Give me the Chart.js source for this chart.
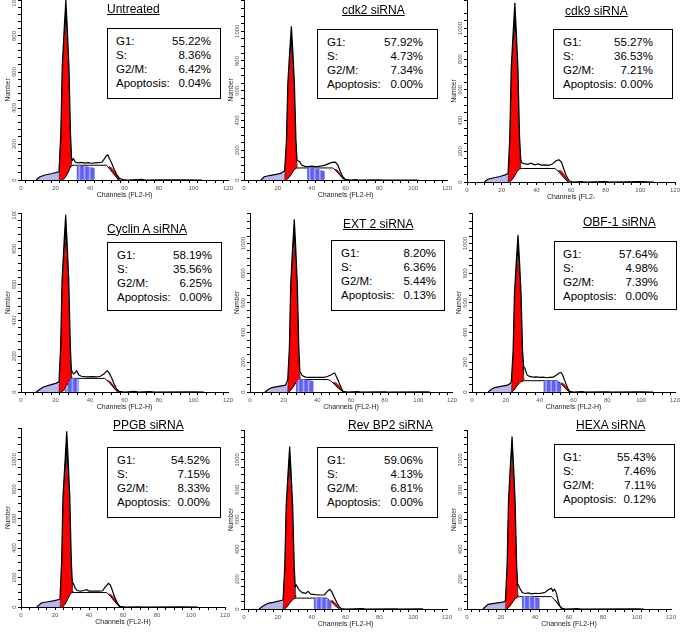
<!DOCTYPE html>
<html lang="en">
<head>
<meta charset="UTF-8">
<title>Cell cycle profiles after siRNA</title>
<script src="https://cdn.jsdelivr.net/npm/chart.js"></script>
<style>
  body { margin: 0; background: #fff; font-family: "Liberation Sans", Arial, sans-serif; }
  #fig { position: relative; width: 685px; height: 633px; overflow: hidden; background: #fff; }
  .ttl { position: absolute; font-size: 12px; line-height: 14px; text-decoration: underline; white-space: nowrap; color: #000; }
  .box { position: absolute; box-sizing: border-box; border: 1px solid #000; background: #fff; font-size: 11.5px; line-height: 14px; color: #000; padding-top: 5px; }
  .row { display: flex; justify-content: space-between; white-space: nowrap; }
</style>
</head>
<body>
<div id="fig"></div>
<script>
// panel texts
const panelNames = ['Untreated', 'cdk2 siRNA', 'cdk9 siRNA', 'Cyclin A siRNA', 'EXT 2 siRNA', 'OBF-1 siRNA', 'PPGB siRNA', 'Rev BP2 siRNA', 'HEXA siRNA'];
const g1Text  = ['55.22%', '57.92%', '55.27%', '58.19%', '8.20%', '57.64%', '54.52%', '59.06%', '55.43%'];
const sText   = ['8.36%', '4.73%', '36.53%', '35.56%', '6.36%', '4.98%', '7.15%', '4.13%', '7.46%'];
const g2mText = ['6.42%', '7.34%', '7.21%', '6.25%', '5.44%', '7.39%', '8.33%', '6.81%', '7.11%'];
const apoText = ['0.04%', '0.00%', '0.00%', '0.00%', '0.13%', '0.00%', '0.00%', '0.00%', '0.12%'];
const xTitles = ['Channels (FL2-H)', 'Channels (FL2-H)', 'Channels (FL2-', 'Channels (FL2-H)', 'Channels (FL2-H)',
                 'Channels (FL2-H)', 'Channels (FL2-H)', 'Channels (FL2-H)', 'Channels (FL2-H)'];
const yMax  = [1000, 1210, 1185, 1000, 1205, 1205, 1215, 1200, 1200];
const yStep = [40, 50, 50, 40, 50, 50, 50, 50, 50];

// [channel, count]
const untreatedHist = [[8.7,0],[11,18],[14,28],[18,36],[22,46],[23.1,260],[23.9,630],[25.1,850],[26,1000],[26.8,850],[27.8,630],[28.7,260],[29.3,125],[29.8,110],[30.5,118],[31.5,100],[33,95],[35,98],[37,94],[39,96],[41,93],[43,95],[45,96],[47,100],[48.5,120],[49.5,135],[50.3,140],[51.3,118],[52.5,95],[54,60],[55.5,30],[57,10],[59,2],[62,0],[70,3],[72,0],[80,1],[95,1],[105,0]];
const untreatedG1 = [[22.1,0],[23.2,240],[24,580],[25.1,780],[26,870],[26.8,760],[27.7,560],[28.6,220],[29.2,90],[29.6,82]];
const untreatedS = [[24,0],[25.5,12],[27,35],[28.3,65],[29.5,80],[31,82],[49.5,82],[51,66],[53,42],[55,18],[56.5,0]];
const untreatedG2 = [[50,62],[51,74],[52.5,68],[54,48],[55.5,26],[57,4],[57.5,0]];
const untreatedDebris = [[8.7,0],[11,18],[14,28],[18,36],[22,46],[22.8,30],[23,0]];
const untreatedWindow = [[33,78],[34,78],[35,77],[36,76],[37,75],[38,74],[39,72],[40,70],[41,68],[42,66]];

const cdk2Hist = [[10,0],[12,22],[15,30],[19,38],[22,46],[24,62],[25.1,270],[25.9,650],[27.1,880],[28,1034],[28.8,880],[29.8,650],[30.7,270],[31.4,130],[32.9,125],[34,100],[36,92],[38,90],[40,93],[42,90],[44,92],[46,95],[48,100],[50,110],[52,118],[54,120],[55.5,100],[57,55],[58.5,20],[60,4],[63,0],[66,3],[68,0],[80,1],[82,0],[103,0]];
const cdk2G1 = [[24,0],[25.2,250],[26,600],[27.1,800],[28,900],[28.8,780],[29.7,580],[30.6,230],[31.2,100],[31.6,85]];
const cdk2S = [[25,0],[26.5,15],[28,40],[29.5,68],[31,80],[33,81],[52.5,81],[54.5,60],[56.5,35],[58,15],[59.5,0]];
const cdk2G2 = [[53,62],[54.5,72],[56,55],[57.5,32],[59,8],[59.5,0]];
const cdk2Debris = [[10,0],[12,22],[15,30],[19,38],[22,46],[24,60],[24.5,50],[24.8,0]];
const cdk2Window = [[38,80],[39,80],[40,79],[41,78],[42,76],[43,73],[44,70],[45,66],[46,62],[47,58]];

const cdk9Hist = [[10,0],[12,18],[15,26],[19,36],[22,46],[23.7,56],[24.7,300],[25.5,735],[26.7,990],[27.6,1167],[28.4,990],[29.4,735],[30.3,300],[31,150],[31.5,125],[33,120],[35,115],[37,122],[39,112],[41,118],[43,110],[45,112],[47,108],[49,115],[51,135],[53,145],[54.5,130],[56,80],[57.5,35],[59,8],[61,0],[66,3],[68,0],[80,2],[82,0],[100,2],[108,0]];
const cdk9G1 = [[23.7,0],[24.8,270],[25.6,680],[26.7,900],[27.6,1000],[28.4,880],[29.3,650],[30.2,260],[30.8,110],[31.2,92]];
const cdk9S = [[24.5,0],[26,15],[27.5,40],[29,70],[30.4,86],[32,88],[50.7,88],[53,66],[55,40],[57,15],[58.4,0]];
const cdk9G2 = [[52.5,72],[54,76],[55.5,58],[57,32],[58.5,6],[59,0]];
const cdk9Debris = [[10,0],[12,18],[15,26],[19,36],[22,46],[23.7,56],[24.2,40],[24.4,0]];
const cdk9Window = [];

const cycAHist = [[8.7,0],[11,15],[13,28],[17,40],[20,48],[22,56],[23,257],[23.8,624],[25,840],[25.9,990],[26.7,840],[27.7,624],[28.6,257],[29.2,125],[29.8,110],[30.5,100],[32.3,118],[33.5,95],[35,88],[38,85],[41,86],[44,84],[46,88],[48,100],[49.2,112],[50,118],[51,108],[52.5,80],[54,45],[55.5,15],[57,3],[60,0],[66,3],[68,0],[75,2],[77,0],[100,1],[106,0]];
const cycAG1 = [[22,0],[23.1,235],[23.9,580],[25,760],[25.9,860],[26.7,740],[27.6,550],[28.5,215],[29.1,85],[29.5,76]];
const cycAS = [[23.5,0],[25,12],[26.5,35],[27.8,60],[29,74],[30.5,76],[48.5,76],[50.5,60],[52.5,38],[54.5,15],[56,0]];
const cycAG2 = [[49,58],[50.5,66],[52,56],[53.5,38],[55,18],[56.5,3],[57,0]];
const cycADebris = [[8.7,0],[11,15],[13,28],[17,40],[20,48],[21.5,56],[22.3,40],[22.5,0]];
const cycAWindow = [[26,14],[27,34],[28,58],[29,72],[30,74],[31,74],[32,73],[33,72]];

const ext2Hist = [[8.9,0],[11,18],[13,30],[17,38],[21,46],[22.4,80],[23.4,300],[24.2,730],[25.4,990],[26.3,1162],[27.1,990],[28.1,730],[29,300],[29.6,140],[31,110],[33,100],[35,98],[38,99],[41,98],[44,99],[46,104],[48,115],[49.5,125],[50.3,128],[51.5,100],[53,60],[54.3,25],[55.3,5],[58,0],[64,2],[66,0],[80,1],[82,0],[105,1],[107,0]];
const ext2G1 = [[22.4,0],[23.5,270],[24.3,680],[25.4,880],[26.3,1016],[27.1,870],[28,640],[28.9,260],[29.5,105],[30,88]];
const ext2S = [[23,0],[24.5,15],[26,40],[27.5,65],[29,80],[30.5,84],[46.4,84],[48.5,70],[50.5,48],[52.5,25],[54.3,8],[55.3,0]];
const ext2G2 = [[49,60],[50.4,66],[51.8,56],[53,40],[54.3,20],[55.2,3],[55.5,0]];
const ext2Debris = [[8.9,0],[11,18],[13,30],[17,38],[21,46],[22.2,70],[22.6,40],[22.8,0]];
const ext2Window = [[28,68],[29,80],[30,84],[31,84],[32,83],[33,82],[34,80],[35,78],[36,75],[37,72]];

const obfHist = [[9.5,0],[11.5,18],[13.4,30],[17,38],[21,46],[23,60],[23.3,80],[24.3,275],[25.1,665],[26.3,900],[27.2,1056],[28,900],[29,665],[29.9,275],[30.6,165],[31.2,162],[32.5,115],[34,105],[36,100],[38,102],[40,98],[42,100],[44,96],[46,98],[48,100],[50,115],[51.5,128],[52.5,132],[53.5,118],[55,70],[56.5,28],[57.8,5],[60,0],[65,2],[67,0],[80,1],[82,0],[100,1],[107,0]];
const obfG1 = [[23.3,0],[24.4,250],[25.2,620],[26.3,810],[27.2,926],[28,790],[28.9,600],[29.8,240],[30.4,100],[31,78]];
const obfS = [[23.5,0],[25,15],[26.5,40],[28,62],[29.5,72],[31,76],[50,76],[52,62],[54,40],[56,15],[57.5,0]];
const obfG2 = [[52,52],[53.2,62],[54.5,52],[56,30],[57.5,5],[58,0]];
const obfDebris = [[9.5,0],[11.5,18],[13.4,30],[17,38],[21,46],[23,60],[23.5,40],[23.7,0]];
const obfWindow = [[43,76],[44,76],[45,76],[46,76],[47,76],[48,76],[49,76],[50,74],[51,68],[52,60]];

const ppgbHist = [[9.2,0],[12.2,29],[15,34],[19,42],[22.9,52],[23.9,310],[24.7,750],[26,1010],[26.9,1192],[27.7,1010],[28.7,750],[29.6,310],[30.2,165],[30.8,160],[31.8,130],[33,112],[35,108],[37,112],[38.5,118],[40,108],[43,108],[46,108],[48,110],[49.5,135],[51.4,160],[52.5,150],[53.5,120],[55,70],[56.5,30],[58.2,5],[61,0],[70,1],[72,0],[95,1],[104,0]];
const ppgbG1 = [[23,0],[24,280],[24.8,700],[26,900],[26.9,1023],[27.7,880],[28.6,660],[29.5,270],[30.1,110],[30.5,100]];
const ppgbS = [[24.5,0],[26,20],[27.5,55],[28.8,85],[29.8,97],[31,98],[50.4,98],[52.5,75],[54.5,45],[56.5,18],[58,0]];
const ppgbG2 = [[50.5,72],[52,88],[53.5,80],[55,58],[56.5,28],[57.8,6],[58.2,0]];
const ppgbDebris = [[9.2,0],[12.2,29],[15,34],[19,42],[22.9,52],[23.3,40],[23.5,0]];
const ppgbWindow = [];

const revHist = [[8.9,0],[11,18],[14.2,38],[18,46],[23,60],[23.1,70],[24.1,283],[24.9,686],[26.1,925],[27,1089],[27.8,925],[28.8,686],[29.7,283],[30.3,150],[31,160],[32.5,130],[34.5,110],[36.5,105],[37.8,118],[39.5,100],[42,96],[45,94],[47.5,95],[49,115],[50.6,132],[51.8,118],[53.3,80],[55,40],[56.5,12],[57.5,3],[60,0],[70,2],[72,0],[90,1],[92,0],[105,1],[106,0]];
const revG1 = [[23.1,0],[24.2,260],[25,640],[26.1,830],[27,955],[27.8,820],[28.7,610],[29.6,240],[30.2,95],[30.6,75]];
const revS = [[24,0],[25.5,15],[27,38],[28.5,60],[30,72],[31.5,73],[48.7,73],[50.5,58],[52.5,38],[54.5,16],[56.5,0]];
const revG2 = [[51,52],[52.3,58],[53.5,46],[55,26],[56.3,6],[56.8,0]];
const revDebris = [[8.9,0],[11,18],[14.2,38],[18,46],[23,60],[23.4,40],[23.6,0]];
const revWindow = [[42,73],[43,73],[44,73],[45,73],[46,73],[47,73],[48,72],[49,65],[50,58],[51,50]];

const hexaHist = [[9.4,0],[12.4,31],[16,38],[20,44],[22.2,49],[22.6,60],[23.6,300],[24.4,728],[25.6,980],[26.5,1156],[27.3,980],[28.3,728],[29.2,300],[29.8,165],[30.3,160],[31,140],[32.5,110],[34,104],[36,108],[38,102],[40,105],[42,104],[44,106],[46,112],[48,130],[49.7,139],[50.5,120],[51.5,132],[52.5,110],[53.5,60],[54.6,20],[56,5],[58,0],[65,2],[67,0],[100,1],[104,0]];
const hexaG1 = [[22.6,0],[23.7,270],[24.5,680],[25.6,900],[26.5,1033],[27.3,880],[28.2,650],[29.1,260],[29.7,110],[30.3,85]];
const hexaS = [[23.5,0],[25,15],[26.5,40],[28,65],[29.5,80],[31,83],[49.7,83],[51.5,62],[53,40],[54.5,18],[55.6,0]];
const hexaG2 = [[50,58],[51.2,66],[52.5,54],[54,30],[55.2,6],[55.6,0]];
const hexaDebris = [[9.4,0],[12.4,31],[16,38],[20,44],[22.2,49],[22.7,40],[22.9,0]];
const hexaWindow = [[33,83],[34,83],[35,83],[36,83],[37,83],[38,82],[39,80],[40,78],[41,75],[42,72]];

const histData   = [untreatedHist, cdk2Hist, cdk9Hist, cycAHist, ext2Hist, obfHist, ppgbHist, revHist, hexaHist];
const g1Data     = [untreatedG1, cdk2G1, cdk9G1, cycAG1, ext2G1, obfG1, ppgbG1, revG1, hexaG1];
const sData      = [untreatedS, cdk2S, cdk9S, cycAS, ext2S, obfS, ppgbS, revS, hexaS];
const g2Data     = [untreatedG2, cdk2G2, cdk9G2, cycAG2, ext2G2, obfG2, ppgbG2, revG2, hexaG2];
const debrisData = [untreatedDebris, cdk2Debris, cdk9Debris, cycADebris, ext2Debris, obfDebris, ppgbDebris, revDebris, hexaDebris];
const windowData = [untreatedWindow, cdk2Window, cdk9Window, cycAWindow, ext2Window, obfWindow, ppgbWindow, revWindow, hexaWindow];

// layout (page pixels): plot area [left, top, right, bottom], title [left, top], box [left, top, w, h, padL, padR]
const plotArea = [[21,0,228,180],[244,0,447,180],[467,0,675,182],[21,213,228,392],[250,213,452,392],[472,213,675,392],[21,428,225,607],[244,430,447,609],[467,430,671,609]];
const titlePos = [[107,1.5],[342,3],[565,4],[107,221.5],[343,216.5],[583,214.5],[113,417.5],[348,417.5],[576,417.5]];
const boxPos = [[107,28,114,71,8,9],[317,29,121,70,9,14],[553,29,120,70,9,19],[107,242,115,69,9,9],[331,240,114,71,9,8],[554,241,123,69,8,18],[107,447,114,71,9,10],[317,447,121,71,9,14],[554,444,121,74,8,18]];

const Y_AXIS_W = 18, X_AXIS_H = 22, PAD_T = 2, PAD_R = 8;
Chart.defaults.font.family = '"Liberation Sans", Arial, sans-serif';

const pts = arr => arr.map(([x, y]) => ({x, y}));

// y tick labels are printed sideways, centred on the tick
const sideLabels = {
    id: 'sideLabels',
    afterDraw(chart) {
        const s = chart.scales.y, ctx = chart.ctx;
        ctx.save();
        ctx.fillStyle = '#555';
        ctx.font = '6px "Liberation Sans", Arial, sans-serif';
        ctx.textAlign = 'center';
        ctx.textBaseline = 'middle';
        s.ticks.forEach(t => {
            if (t.value % 200 !== 0 || t.value > 1000) return;
            ctx.save();
            ctx.translate(s.right - 6.5, s.getPixelForValue(t.value));
            ctx.rotate(-Math.PI / 2);
            ctx.fillText(String(t.value), 0, 0);
            ctx.restore();
        });
        ctx.restore();
    }
};

const fig = document.getElementById('fig');
const axisGrid = { drawOnChartArea: false, drawTicks: true, tickLength: 3, color: '#000', lineWidth: 1 };

function makePanel(i) {
    const [l, t, r, b] = plotArea[i];
    const w = r - l + Y_AXIS_W + PAD_R, h = b - t + PAD_T + X_AXIS_H;
    const canvas = document.createElement('canvas');
    canvas.width = w; canvas.height = h;
    canvas.style.cssText = `position:absolute;left:${l - Y_AXIS_W}px;top:${t - PAD_T}px;width:${w}px;height:${h}px`;
    fig.appendChild(canvas);

    const datasets = [
        { label: 'Histogram', data: pts(histData[i]), borderColor: '#000', borderWidth: 1.2, pointRadius: 0,
          fill: { target: 1, above: '#000', below: 'rgba(0,0,0,0)' }, order: 0 },
        { label: 'G1', data: pts(g1Data[i]), borderColor: '#000', borderWidth: 0.5, backgroundColor: '#ff0000',
          fill: 'origin', pointRadius: 0, order: 5 },
        { label: 'G2/M', data: pts(g2Data[i]), borderColor: '#000', borderWidth: 0.5, backgroundColor: '#ff0000',
          fill: 'origin', pointRadius: 0, order: 4 },
        { label: 'S', data: pts(sData[i]), borderColor: '#000', borderWidth: 1, backgroundColor: '#ffffff',
          fill: 'origin', pointRadius: 0, order: 3 },
        { label: 'Debris', data: pts(debrisData[i]), borderWidth: 0, backgroundColor: '#b8b8ee',
          fill: 'origin', pointRadius: 0, order: 6 }
    ];
    if (windowData[i].length) {
        datasets.push({ type: 'bar', label: 'S window', data: pts(windowData[i]),
            backgroundColor: c => c.dataIndex % 3 === 1 ? '#a6a6ff' : '#5f5ff2',
            borderWidth: 0, barPercentage: 1, categoryPercentage: 1, order: 2 });
    }

    new Chart(canvas.getContext('2d'), {
        type: 'line',
        data: { datasets },
        options: {
            responsive: false,
            animation: false,
            devicePixelRatio: 1,
            events: [],
            layout: { padding: { top: PAD_T, right: PAD_R, left: 0, bottom: 0 } },
            plugins: { legend: { display: false }, tooltip: { enabled: false } },
            scales: {
                x: {
                    type: 'linear', min: 0, max: 120, offset: false,
                    ticks: { stepSize: 5, autoSkip: false, maxRotation: 0, minRotation: 0, padding: 2,
                             color: '#555', font: { size: 6 }, maxTicksLimit: 200,
                             callback: v => v % 20 === 0 ? String(v) : '' },
                    grid: axisGrid,
                    border: { display: true, color: '#000', width: 1 },
                    title: { display: true, text: xTitles[i], color: '#222', font: { size: 7 }, padding: { top: 0, bottom: 3 } },
                    afterFit: s => { s.height = X_AXIS_H; }
                },
                y: {
                    type: 'linear', min: 0, max: yMax[i],
                    ticks: { stepSize: yStep[i], display: false, maxTicksLimit: 200 },
                    grid: axisGrid,
                    border: { display: true, color: '#000', width: 1 },
                    title: { display: true, text: 'Number', color: '#222', font: { size: 6.5 }, padding: { top: 1, bottom: 0 } },
                    afterFit: s => { s.width = Y_AXIS_W; }
                }
            }
        },
        plugins: [sideLabels]
    });

    const ttl = document.createElement('div');
    ttl.className = 'ttl';
    ttl.style.left = titlePos[i][0] + 'px';
    ttl.style.top = titlePos[i][1] + 'px';
    ttl.textContent = panelNames[i];
    fig.appendChild(ttl);

    const [bl, bt, bw, bh, pl, pr] = boxPos[i];
    const box = document.createElement('div');
    box.className = 'box';
    box.style.cssText = `left:${bl}px;top:${bt}px;width:${bw}px;height:${bh}px;padding-left:${pl}px;padding-right:${pr}px`;
    [['G1:', g1Text[i]], ['S:', sText[i]], ['G2/M:', g2mText[i]], ['Apoptosis:', apoText[i]]].forEach(([k, v]) => {
        const row = document.createElement('div');
        row.className = 'row';
        const a = document.createElement('span'); a.textContent = k;
        const b2 = document.createElement('span'); b2.textContent = v;
        row.append(a, b2);
        box.appendChild(row);
    });
    fig.appendChild(box);
}

panelNames.forEach((_, i) => makePanel(i));
</script>
</body>
</html>
